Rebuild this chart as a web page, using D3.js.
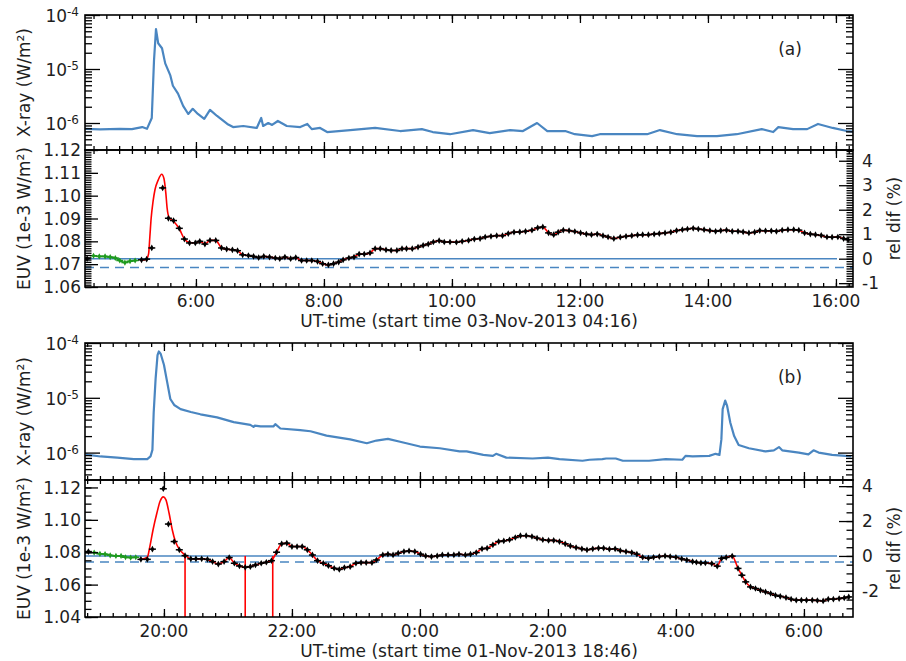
<!DOCTYPE html>
<html><head><meta charset="utf-8">
<script src="https://cdn.jsdelivr.net/npm/d3@7"></script>
<style>
body{margin:0;background:#fff}
text{font-family:"DejaVu Sans",sans-serif;fill:#1e1e1e}
</style>
</head><body>
<svg id="c" width="906" height="661"></svg>
<script>
// ---------- DATA ----------
// Panel (a): 03-Nov-2013, time in decimal UT hours
const xrayA = [[4.27,7.8e-7],[4.5,7.6e-7],[4.81,7.8e-7],[5.0,7.7e-7],[5.16,8.4e-7],[5.235,7.8e-7],[5.31,1.24e-6],[5.345,1.45e-5],[5.376,5.47e-5],[5.41,3.0e-5],[5.47,2.42e-5],[5.52,1.27e-5],[5.6,7.6e-6],[5.64,4.9e-6],[5.72,3.5e-6],[5.80,2.08e-6],[5.88,1.47e-6],[5.95,1.83e-6],[6.03,1.47e-6],[6.13,1.19e-6],[6.22,1.75e-6],[6.33,1.35e-6],[6.49,9.6e-7],[6.58,8.4e-7],[6.74,8.8e-7],[6.95,8.1e-7],[7.02,1.24e-6],[7.05,8.8e-7],[7.13,1.0e-6],[7.19,9.2e-7],[7.28,1.09e-6],[7.42,8.8e-7],[7.63,8.4e-7],[7.74,9.6e-7],[7.81,7.7e-7],[7.94,8.1e-7],[8.05,6.8e-7],[8.41,7.4e-7],[8.80,8.1e-7],[9.19,7.1e-7],[9.53,7.7e-7],[9.70,6.8e-7],[9.97,6.2e-7],[10.33,7.4e-7],[10.59,6.5e-7],[10.91,7.4e-7],[11.11,7.1e-7],[11.33,1.0e-6],[11.49,7.1e-7],[11.77,7.1e-7],[11.92,6.2e-7],[12.19,5.7e-7],[12.31,6.2e-7],[13.05,6.2e-7],[13.25,7.4e-7],[13.52,6.2e-7],[13.83,5.7e-7],[14.14,5.7e-7],[14.45,6.2e-7],[14.84,7.7e-7],[15.02,6.8e-7],[15.10,8.4e-7],[15.33,7.7e-7],[15.55,7.7e-7],[15.72,9.6e-7],[15.95,8.1e-7],[16.17,7.1e-7],[16.27,6.9e-7]];
const euvA = [[4.30,1.0724],[5.15,1.0719],[5.23,1.0722],[5.31,1.0771],[5.48,1.1034],[5.57,1.0901],[5.65,1.0891],[5.74,1.0857],[5.82,1.0810],[5.90,1.0793],[5.99,1.0793],[6.06,1.0800],[6.14,1.0788],[6.22,1.0804],[6.31,1.0804],[6.40,1.0771],[6.48,1.0766],[6.57,1.0763],[6.65,1.0759],[6.73,1.0741],[6.82,1.0738],[6.90,1.0734],[6.98,1.0729],[7.06,1.0734],[7.15,1.0731],[7.24,1.0727],[7.31,1.0724],[7.39,1.0731],[7.48,1.0724],[7.56,1.0729],[7.65,1.0716],[7.73,1.0716],[7.81,1.0716],[7.90,1.0712],[7.98,1.0702],[8.07,1.0697],[8.15,1.0702],[8.23,1.0709],[8.30,1.0719],[8.39,1.0727],[8.47,1.0731],[8.55,1.0744],[8.63,1.0744],[8.72,1.0749],[8.80,1.0768],[8.88,1.0768],[8.97,1.0763],[9.05,1.0760],[9.14,1.0760],[9.22,1.0768],[9.29,1.0768],[9.38,1.0768],[9.47,1.0775],[9.55,1.0782],[9.63,1.0788],[9.71,1.0797],[9.80,1.0803],[9.88,1.0797],[9.97,1.0797],[10.07,1.0796],[10.16,1.0800],[10.26,1.0804],[10.35,1.0810],[10.44,1.0812],[10.52,1.0819],[10.61,1.0822],[10.70,1.0825],[10.79,1.0825],[10.88,1.0834],[10.97,1.0840],[11.06,1.0841],[11.15,1.0844],[11.25,1.0849],[11.34,1.0859],[11.42,1.0863],[11.51,1.0837],[11.59,1.0829],[11.66,1.0840],[11.74,1.0849],[11.83,1.0847],[11.92,1.0843],[12.01,1.0837],[12.10,1.0832],[12.18,1.0829],[12.27,1.0832],[12.36,1.0825],[12.44,1.0819],[12.53,1.0812],[12.63,1.0818],[12.72,1.0822],[12.81,1.0825],[12.90,1.0828],[12.98,1.0829],[13.07,1.0829],[13.16,1.0832],[13.24,1.0834],[13.33,1.0837],[13.42,1.0840],[13.51,1.0847],[13.60,1.0851],[13.68,1.0854],[13.77,1.0857],[13.85,1.0854],[13.94,1.0851],[14.03,1.0847],[14.12,1.0844],[14.20,1.0847],[14.29,1.0849],[14.38,1.0844],[14.47,1.0844],[14.55,1.0841],[14.64,1.0837],[14.73,1.0840],[14.81,1.0847],[14.90,1.0846],[14.99,1.0846],[15.07,1.0844],[15.16,1.0849],[15.25,1.0851],[15.34,1.0851],[15.42,1.0849],[15.51,1.0837],[15.60,1.0832],[15.68,1.0829],[15.77,1.0826],[15.86,1.0819],[15.94,1.0818],[16.03,1.0819],[16.12,1.0812],[16.19,1.0807]];
const greenA = [[4.40,1.0737],[4.49,1.0734],[4.58,1.0734],[4.66,1.0731],[4.74,1.0727],[4.81,1.0716],[4.89,1.0707],[4.97,1.0713],[5.05,1.0716]];
const fitA = [[5.13,1.0716],[5.22,1.0720],[5.26,1.0745],[5.28,1.0820],[5.30,1.0900],[5.33,1.0975],[5.36,1.1026],[5.41,1.1068],[5.465,1.1094],[5.50,1.1075],[5.53,1.1010],[5.55,1.0945],[5.58,1.0905],[5.65,1.0888],[5.74,1.0855],[5.82,1.0810],[5.90,1.0795]];
const baseA = 1.0724, dashA = 1.0685;
const tickHoursA = [6,8,10,12,14,16];
const tickLabelsA = ["6:00","8:00","10:00","12:00","14:00","16:00"];
const euvTicksA = [1.06,1.07,1.08,1.09,1.10,1.11,1.12];
const relTicksA = [-1,0,1,2,3,4];

// Panel (b): 01/02-Nov-2013, hours after 24 belong to the next day
const xrayB = [[18.78,9.3e-7],[18.82,9.1e-7],[19.01,8.5e-7],[19.27,8.1e-7],[19.53,7.6e-7],[19.74,7.6e-7],[19.79,8.5e-7],[19.82,1.12e-6],[19.84,5.4e-6],[19.87,2.24e-5],[19.90,6.0e-5],[19.92,7.0e-5],[19.95,6.3e-5],[20.00,4.0e-5],[20.05,1.95e-5],[20.10,9.5e-6],[20.16,7.4e-6],[20.26,6.2e-6],[20.42,5.5e-6],[20.57,5.0e-6],[20.83,4.4e-6],[21.09,3.6e-6],[21.35,3.2e-6],[21.40,2.95e-6],[21.42,3.1e-6],[21.51,3.0e-6],[21.71,3.0e-6],[21.74,3.3e-6],[21.82,2.75e-6],[22.13,2.57e-6],[22.29,2.45e-6],[22.54,2.04e-6],[22.91,1.74e-6],[23.17,1.48e-6],[23.32,1.66e-6],[23.50,1.78e-6],[23.69,1.58e-6],[24.00,1.29e-6],[24.31,1.2e-6],[24.62,1.05e-6],[24.73,1.05e-6],[24.99,9.1e-7],[25.14,8.7e-7],[25.19,9.5e-7],[25.35,8.1e-7],[25.76,7.8e-7],[26.00,8.1e-7],[26.18,7.6e-7],[26.54,7.1e-7],[26.65,7.4e-7],[26.85,7.6e-7],[26.91,7.8e-7],[27.06,7.8e-7],[27.17,7.1e-7],[27.58,7.1e-7],[27.84,7.6e-7],[28.10,7.4e-7],[28.15,8.7e-7],[28.26,8.5e-7],[28.52,8.7e-7],[28.62,9.5e-7],[28.68,9.1e-7],[28.71,1.74e-6],[28.73,6.2e-6],[28.77,8.9e-6],[28.80,7.1e-6],[28.85,3.5e-6],[28.91,2.0e-6],[28.98,1.38e-6],[29.14,1.2e-6],[29.40,1.05e-6],[29.53,1.1e-6],[29.61,1.26e-6],[29.66,1.1e-6],[29.92,1.0e-6],[30.07,9.3e-7],[30.15,1.1e-6],[30.23,1.0e-6],[30.44,9.1e-7],[30.65,8.7e-7],[30.74,8.5e-7]];
const euvB = [[18.82,1.0804],[19.64,1.0756],[19.74,1.0756],[19.82,1.0819],[19.99,1.1192],[20.07,1.0974],[20.16,1.0866],[20.24,1.0815],[20.33,1.0779],[20.42,1.0759],[20.50,1.0759],[20.59,1.0759],[20.68,1.0756],[20.76,1.0742],[20.85,1.0727],[20.94,1.0742],[21.02,1.0767],[21.10,1.0732],[21.18,1.0715],[21.27,1.0707],[21.35,1.0711],[21.43,1.0721],[21.52,1.0732],[21.60,1.0738],[21.68,1.0748],[21.76,1.0800],[21.84,1.0852],[21.92,1.0856],[22.00,1.0835],[22.08,1.0835],[22.16,1.0835],[22.24,1.0815],[22.32,1.0783],[22.40,1.0748],[22.49,1.0732],[22.57,1.0717],[22.66,1.0701],[22.74,1.0694],[22.82,1.0705],[22.91,1.0711],[23.00,1.0732],[23.08,1.0736],[23.16,1.0736],[23.25,1.0736],[23.32,1.0752],[23.42,1.0783],[23.50,1.0788],[23.58,1.0783],[23.66,1.0794],[23.75,1.0804],[23.83,1.0808],[23.92,1.0804],[24.01,1.0788],[24.09,1.0777],[24.18,1.0773],[24.27,1.0777],[24.35,1.0783],[24.44,1.0783],[24.53,1.0783],[24.61,1.0788],[24.71,1.0783],[24.79,1.0788],[24.88,1.0798],[24.97,1.0821],[25.05,1.0825],[25.14,1.0846],[25.23,1.0866],[25.31,1.0870],[25.40,1.0877],[25.49,1.0891],[25.57,1.0902],[25.66,1.0902],[25.75,1.0897],[25.83,1.0887],[25.92,1.0877],[26.01,1.0873],[26.09,1.0873],[26.18,1.0866],[26.27,1.0852],[26.35,1.0839],[26.44,1.0829],[26.53,1.0821],[26.61,1.0815],[26.70,1.0821],[26.79,1.0825],[26.87,1.0825],[26.96,1.0819],[27.05,1.0821],[27.13,1.0810],[27.22,1.0804],[27.31,1.0798],[27.39,1.0788],[27.48,1.0769],[27.57,1.0763],[27.65,1.0769],[27.74,1.0773],[27.83,1.0777],[27.91,1.0773],[28.00,1.0769],[28.09,1.0759],[28.17,1.0752],[28.26,1.0742],[28.32,1.0738],[28.39,1.0734],[28.46,1.0734],[28.56,1.0730],[28.645,1.0714],[28.713,1.0762],[28.785,1.0768],[28.879,1.0776],[28.97,1.0700],[29.03,1.0658],[29.09,1.0617],[29.165,1.0586],[29.243,1.0576],[29.32,1.0565],[29.40,1.0555],[29.48,1.0545],[29.555,1.0534],[29.63,1.0528],[29.72,1.0520],[29.80,1.0510],[29.88,1.0504],[29.96,1.0504],[30.04,1.0504],[30.13,1.0504],[30.21,1.0502],[30.30,1.0499],[30.38,1.0510],[30.46,1.0510],[30.55,1.0514],[30.63,1.0518],[30.70,1.0524]];
const greenB = [[18.91,1.0798],[19.00,1.0790],[19.08,1.0788],[19.16,1.0781],[19.25,1.0777],[19.33,1.0777],[19.40,1.0769],[19.48,1.0767],[19.56,1.0769]];
const fitB = [[19.64,1.0756],[19.74,1.0769],[19.78,1.0835],[19.83,1.0939],[19.89,1.1042],[19.94,1.1115],[19.99,1.1142],[20.03,1.1125],[20.08,1.1042],[20.13,1.0939],[20.18,1.0866],[20.24,1.0819],[20.33,1.0783]];
const markersB = [20.33,21.27,21.70];
const baseB = 1.0777, dashB = 1.0740;
const tickHoursB = [20,22,24,26,28,30];
const tickLabelsB = ["20:00","22:00","0:00","2:00","4:00","6:00"];
const euvTicksB = [1.04,1.06,1.08,1.10,1.12];
const relTicksB = [-2,0,2,4];

const xrayDecades = [1e-6,1e-5,1e-4];
const xrayDecadeLabels = ["-6","-5","-4"];

// ---------- DRAW ----------
const svg = d3.select("#c");
const L = 85, R = 853, FS = 17;
const BLUE = "#4a86c1", RED = "#ff0000", GREEN = "#1f9a1f";

function styleAxis(sel){
  sel.select(".domain").remove();
  sel.selectAll("line").attr("stroke","#000").attr("stroke-width",1.3);
}
function addAxis(axis, tx, ty){
  svg.append("g").attr("transform",`translate(${tx},${ty})`).call(axis).call(styleAxis);
}

let clipId = 0;
function clip(x0,y0,x1,y1){
  const id = "cl"+(clipId++);
  svg.append("clipPath").attr("id",id).append("rect").attr("x",x0).attr("y",y0).attr("width",x1-x0).attr("height",y1-y0);
  return `url(#${id})`;
}

function panel(c){
  const x = d3.scaleLinear().domain(c.xDomain).range([L,R]);
  const yX = d3.scaleLog().domain([Math.pow(10,-6.5),1e-4]).range([c.xBot,c.xTop]);
  const yE = d3.scaleLinear().domain(c.euvDomain).range([c.eBot,c.eTop]);
  const yR = d3.scaleLinear().domain(c.euvDomain.map(v=>(v/c.base-1)*100)).range([c.eBot,c.eTop]);

  const minorX = d3.range(Math.ceil(c.xDomain[0]*5), Math.floor(c.xDomain[1]*5)+1).map(k=>k/5);

  // ---- X-ray panel ----
  const cx = clip(L,c.xTop,R,c.xBot);
  svg.append("path").datum(c.xray).attr("clip-path",cx)
    .attr("fill","none").attr("stroke",BLUE).attr("stroke-width",2.2).attr("stroke-linejoin","round")
    .attr("d",d3.line().x(d=>x(d[0])).y(d=>yX(d[1])));

  const logMinor = [];
  [-7,-6,-5].forEach(e=>{ for(let k=2;k<=9;k++){ const v=k*Math.pow(10,e); if(v>=yX.domain()[0]&&v<=1e-4) logMinor.push(v);} });
  addAxis(d3.axisLeft(yX).tickValues(logMinor).tickSize(-7).tickFormat(""), L, 0);
  addAxis(d3.axisLeft(yX).tickValues(xrayDecades).tickSize(-15).tickFormat(""), L, 0);
  addAxis(d3.axisRight(yX).tickValues(logMinor).tickSize(-7).tickFormat(""), R, 0);
  addAxis(d3.axisRight(yX).tickValues(xrayDecades).tickSize(-15).tickFormat(""), R, 0);
  [c.xTop,c.xBot].forEach((yy,i)=>{
    const mk = i===0 ? d3.axisTop : d3.axisBottom;
    addAxis(mk(x).tickValues(minorX).tickSize(-4).tickFormat(""), 0, yy);
    addAxis(mk(x).tickValues(c.tickHours).tickSize(-8).tickFormat(""), 0, yy);
  });
  svg.append("rect").attr("x",L).attr("y",c.xTop).attr("width",R-L).attr("height",c.xBot-c.xTop)
    .attr("fill","none").attr("stroke","#000").attr("stroke-width",1.6);

  xrayDecades.forEach((v,i)=>{
    const t = svg.append("text").attr("x",L-6).attr("y",yX(v)).attr("dy","0.42em")
      .attr("text-anchor","end").attr("font-size",FS);
    t.append("tspan").text("10");
    t.append("tspan").attr("dy","-0.5em").attr("font-size",12).text(xrayDecadeLabels[i]);
  });
  svg.append("text").attr("transform",`translate(30,${(c.xTop+c.xBot)/2}) rotate(-90)`)
    .attr("text-anchor","middle").attr("font-size",FS).text("X-ray (W/m²)");
  svg.append("text").attr("x",790).attr("y",c.xTop+40).attr("text-anchor","middle")
    .attr("font-size",FS).text(c.tag);

  // ---- EUV panel ----
  const ce = clip(L,c.eTop,R,c.eBot);
  const g = svg.append("g").attr("clip-path",ce);
  g.append("line").attr("x1",L).attr("x2",x(c.xDomain[1]-0.25)).attr("y1",yE(c.base)).attr("y2",yE(c.base))
    .attr("stroke",BLUE).attr("stroke-width",1.5);
  g.append("line").attr("x1",L).attr("x2",R).attr("y1",yE(c.dash)).attr("y2",yE(c.dash))
    .attr("stroke",BLUE).attr("stroke-width",1.5).attr("stroke-dasharray","9,6");

  const line = d3.line().x(d=>x(d[0])).y(d=>yE(d[1])).curve(d3.curveMonotoneX);
  g.append("path").datum(c.green).attr("fill","none").attr("stroke",GREEN).attr("stroke-width",1.6).attr("d",line);
  const lastFit = c.fit[c.fit.length-1][0];
  const red = c.fit.concat(c.euv.filter(d=>d[0]>lastFit+0.01));
  g.append("path").datum(red).attr("fill","none").attr("stroke",RED).attr("stroke-width",1.6).attr("d",line);
  (c.markers||[]).forEach(m=>{
    g.append("line").attr("x1",x(m)).attr("x2",x(m)).attr("y1",yE(c.euvDomain[0])).attr("y2",yE(c.base))
      .attr("stroke",RED).attr("stroke-width",1.6);
  });
  const diamond = d3.symbol().type(d3.symbolDiamond);
  function dots(data,color,size){
    const s = g.append("g");
    data.forEach(d=>{
      s.append("line").attr("x1",x(d[0])-3.5).attr("x2",x(d[0])+3.5).attr("y1",yE(d[1])).attr("y2",yE(d[1]))
        .attr("stroke",color).attr("stroke-width",1.5);
      s.append("path").attr("transform",`translate(${x(d[0])},${yE(d[1])})`)
        .attr("d",diamond.size(size)()).attr("fill",color);
    });
  }
  dots(c.green,GREEN,11);
  dots(c.euv,"#000",13);

  addAxis(d3.axisLeft(yE).tickValues(d3.range(Math.round(c.euvDomain[0]/c.eMinor), Math.floor(c.euvDomain[1]/c.eMinor+1e-6)+1).map(k=>k*c.eMinor)).tickSize(-6.5).tickFormat(""), L, 0);
  addAxis(d3.axisLeft(yE).tickValues(c.euvTicks).tickSize(-13).tickFormat(""), L, 0);
  const rd = yR.domain();
  addAxis(d3.axisRight(yR).tickValues(d3.range(Math.ceil(rd[0]/c.rMinor), Math.floor(rd[1]/c.rMinor)+1).map(k=>k*c.rMinor)).tickSize(-6.5).tickFormat(""), R, 0);
  addAxis(d3.axisRight(yR).tickValues(c.relTicks).tickSize(-14).tickFormat(""), R, 0);
  [c.eTop,c.eBot].forEach((yy,i)=>{
    const mk = i===0 ? d3.axisTop : d3.axisBottom;
    addAxis(mk(x).tickValues(minorX).tickSize(-4).tickFormat(""), 0, yy);
    addAxis(mk(x).tickValues(c.tickHours).tickSize(-8).tickFormat(""), 0, yy);
  });
  svg.append("rect").attr("x",L).attr("y",c.eTop).attr("width",R-L).attr("height",c.eBot-c.eTop)
    .attr("fill","none").attr("stroke","#000").attr("stroke-width",1.6);

  c.euvTicks.forEach(v=>{
    svg.append("text").attr("x",L-4).attr("y",yE(v)).attr("dy","0.36em").attr("text-anchor","end")
      .attr("font-size",FS).text(v.toFixed(2));
  });
  c.relTicks.forEach(v=>{
    svg.append("text").attr("x",R+9).attr("y",yR(v)).attr("dy","0.36em").attr("text-anchor","start")
      .attr("font-size",FS).text(String(v));
  });
  c.tickHours.forEach((h,i)=>{
    svg.append("text").attr("x",x(h)).attr("y",c.eBot+20).attr("text-anchor","middle")
      .attr("font-size",FS).text(c.tickLabels[i]);
  });
  svg.append("text").attr("x",(L+R)/2).attr("y",c.eBot+39.5).attr("text-anchor","middle")
    .attr("font-size",FS).text(c.title);
  svg.append("text").attr("transform",`translate(30,${(c.eTop+c.eBot)/2}) rotate(-90)`)
    .attr("text-anchor","middle").attr("font-size",FS).text("EUV (1e-3 W/m²)");
  svg.append("text").attr("transform",`translate(900,${(c.eTop+c.eBot)/2}) rotate(-90)`)
    .attr("text-anchor","middle").attr("font-size",FS).text("rel dif (%)");
}

panel({
  xDomain:[4+16/60, 16+16/60], xTop:15, xBot:150, eTop:150, eBot:287,
  euvDomain:[1.06,1.12], base:baseA, dash:dashA, eMinor:0.001, rMinor:0.1,
  xray:xrayA, euv:euvA, green:greenA, fit:fitA, markers:[],
  tickHours:tickHoursA, tickLabels:tickLabelsA, euvTicks:euvTicksA, relTicks:relTicksA,
  tag:"(a)", title:"UT-time (start time 03-Nov-2013 04:16)"
});
panel({
  xDomain:[18+46/60, 30+46/60], xTop:343, xBot:480, eTop:480, eBot:617,
  euvDomain:[1.04,1.1246], base:baseB, dash:dashB, eMinor:0.005, rMinor:0.5,
  xray:xrayB, euv:euvB, green:greenB, fit:fitB, markers:markersB,
  tickHours:tickHoursB, tickLabels:tickLabelsB, euvTicks:euvTicksB, relTicks:relTicksB,
  tag:"(b)", title:"UT-time (start time 01-Nov-2013 18:46)"
});
</script>
</body></html>
